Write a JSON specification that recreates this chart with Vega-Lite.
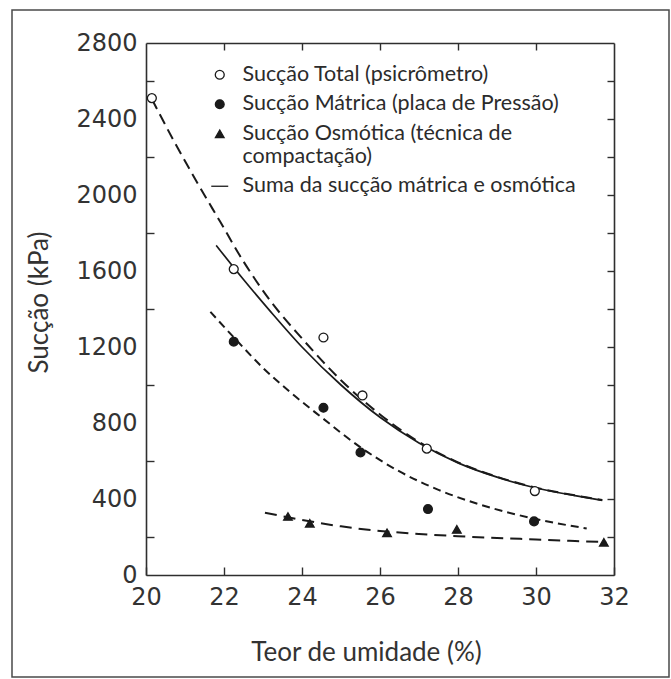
{
  "$schema": "https://vega.github.io/schema/vega-lite/v6.json",
  "width": 657,
  "height": 667,
  "autosize": {"type": "none"},
  "padding": {"left": 12, "top": 10, "right": 2, "bottom": 2},
  "background": "white",
  "config": {
    "view": {"stroke": "#4a4a4a", "strokeWidth": 1.5},
    "axis": {
      "domain": true,
      "domainColor": "#2e2e2e",
      "domainWidth": 1.6,
      "grid": false,
      "tickColor": "#2e2e2e",
      "tickWidth": 1.4,
      "labelFont": "DejaVu Sans",
      "labelFontSize": 24,
      "labelColor": "#333333",
      "labelFlush": false,
      "labelOverlap": false,
      "titleFont": "Lato",
      "titleFontSize": 26,
      "titleFontWeight": "normal",
      "titleColor": "#333333"
    }
  },
  "datasets": {
    "pontos": [
      {"teor": 20.15, "succao": 2510, "serie": "Sucção Total (psicrômetro)"},
      {"teor": 22.25, "succao": 1610, "serie": "Sucção Total (psicrômetro)"},
      {"teor": 24.55, "succao": 1250, "serie": "Sucção Total (psicrômetro)"},
      {"teor": 25.55, "succao": 945, "serie": "Sucção Total (psicrômetro)"},
      {"teor": 27.2, "succao": 665, "serie": "Sucção Total (psicrômetro)"},
      {"teor": 29.97, "succao": 442, "serie": "Sucção Total (psicrômetro)"},
      {"teor": 22.25, "succao": 1228, "serie": "Sucção Mátrica (placa de Pressão)"},
      {"teor": 24.55, "succao": 880, "serie": "Sucção Mátrica (placa de Pressão)"},
      {"teor": 25.5, "succao": 645, "serie": "Sucção Mátrica (placa de Pressão)"},
      {"teor": 27.23, "succao": 347, "serie": "Sucção Mátrica (placa de Pressão)"},
      {"teor": 29.95, "succao": 282, "serie": "Sucção Mátrica (placa de Pressão)"},
      {"teor": 23.64, "succao": 308, "serie": "Sucção Osmótica (técnica de compactação)"},
      {"teor": 24.2, "succao": 272, "serie": "Sucção Osmótica (técnica de compactação)"},
      {"teor": 26.18, "succao": 222, "serie": "Sucção Osmótica (técnica de compactação)"},
      {"teor": 27.97, "succao": 240, "serie": "Sucção Osmótica (técnica de compactação)"},
      {"teor": 31.74, "succao": 172, "serie": "Sucção Osmótica (técnica de compactação)"}
    ],
    "curvas": [
      {"teor": 20.15, "succao": 2505, "curva": "total"},
      {"teor": 20.7, "succao": 2290, "curva": "total"},
      {"teor": 21.3, "succao": 2070, "curva": "total"},
      {"teor": 21.9, "succao": 1860, "curva": "total"},
      {"teor": 22.5, "succao": 1650, "curva": "total"},
      {"teor": 23.2, "succao": 1440, "curva": "total"},
      {"teor": 24.0, "succao": 1245, "curva": "total"},
      {"teor": 25.0, "succao": 1025, "curva": "total"},
      {"teor": 26.0, "succao": 845, "curva": "total"},
      {"teor": 27.0, "succao": 700, "curva": "total"},
      {"teor": 28.0, "succao": 593, "curva": "total"},
      {"teor": 29.0, "succao": 517, "curva": "total"},
      {"teor": 30.0, "succao": 460, "curva": "total"},
      {"teor": 31.0, "succao": 419, "curva": "total"},
      {"teor": 31.7, "succao": 395, "curva": "total"},
      {"teor": 21.8, "succao": 1735, "curva": "soma"},
      {"teor": 22.5, "succao": 1555, "curva": "soma"},
      {"teor": 23.2, "succao": 1385, "curva": "soma"},
      {"teor": 24.0, "succao": 1200, "curva": "soma"},
      {"teor": 25.0, "succao": 1000, "curva": "soma"},
      {"teor": 26.0, "succao": 830, "curva": "soma"},
      {"teor": 27.0, "succao": 695, "curva": "soma"},
      {"teor": 28.0, "succao": 590, "curva": "soma"},
      {"teor": 29.0, "succao": 515, "curva": "soma"},
      {"teor": 30.0, "succao": 458, "curva": "soma"},
      {"teor": 31.0, "succao": 418, "curva": "soma"},
      {"teor": 31.7, "succao": 393, "curva": "soma"},
      {"teor": 21.65, "succao": 1385, "curva": "matrica"},
      {"teor": 22.3, "succao": 1240, "curva": "matrica"},
      {"teor": 23.0, "succao": 1090, "curva": "matrica"},
      {"teor": 23.7, "succao": 962, "curva": "matrica"},
      {"teor": 24.5, "succao": 830, "curva": "matrica"},
      {"teor": 25.5, "succao": 672, "curva": "matrica"},
      {"teor": 26.5, "succao": 545, "curva": "matrica"},
      {"teor": 27.5, "succao": 448, "curva": "matrica"},
      {"teor": 28.5, "succao": 375, "curva": "matrica"},
      {"teor": 29.5, "succao": 318, "curva": "matrica"},
      {"teor": 30.5, "succao": 274, "curva": "matrica"},
      {"teor": 31.3, "succao": 245, "curva": "matrica"},
      {"teor": 23.05, "succao": 328, "curva": "osmotica"},
      {"teor": 24.0, "succao": 290, "curva": "osmotica"},
      {"teor": 25.0, "succao": 256, "curva": "osmotica"},
      {"teor": 26.0, "succao": 232, "curva": "osmotica"},
      {"teor": 27.0, "succao": 216, "curva": "osmotica"},
      {"teor": 28.0, "succao": 204, "curva": "osmotica"},
      {"teor": 29.0, "succao": 195, "curva": "osmotica"},
      {"teor": 30.0, "succao": 187, "curva": "osmotica"},
      {"teor": 31.0, "succao": 179, "curva": "osmotica"},
      {"teor": 31.8, "succao": 173, "curva": "osmotica"}
    ]
  },
  "encoding": {
    "x": {"field": "teor", "type": "quantitative", "scale": {"domain": [20, 32], "range": [134, 602], "nice": false, "zero": false}, "axis": null},
    "y": {"field": "succao", "type": "quantitative", "scale": {"domain": [0, 2800], "range": [565, 33], "nice": false, "zero": false}, "axis": null}
  },
  "layer": [
    {
      "data": {"name": "curvas"},
      "transform": [{"filter": "datum.curva === 'total'"}],
      "mark": {"type": "line", "interpolate": "monotone", "color": "#1a1a1a", "strokeWidth": 2, "strokeDash": [11, 6]}
    },
    {
      "data": {"name": "curvas"},
      "transform": [{"filter": "datum.curva === 'matrica'"}],
      "mark": {"type": "line", "interpolate": "monotone", "color": "#1a1a1a", "strokeWidth": 2, "strokeDash": [8, 5]}
    },
    {
      "data": {"name": "curvas"},
      "transform": [{"filter": "datum.curva === 'osmotica'"}],
      "mark": {"type": "line", "interpolate": "monotone", "color": "#1a1a1a", "strokeWidth": 2, "strokeDash": [12, 7]}
    },
    {
      "data": {"name": "curvas"},
      "transform": [{"filter": "datum.curva === 'soma'"}],
      "mark": {"type": "line", "interpolate": "monotone", "color": "#1a1a1a", "strokeWidth": 1.7},
      "encoding": {
        "x": {"field": "teor", "type": "quantitative", "scale": {"domain": [20, 32], "range": [134, 602], "nice": false, "zero": false},
          "axis": {"orient": "top", "offset": -33, "values": [22, 24, 26, 28, 30], "labels": false, "tickSize": -7, "title": null}},
        "y": {"field": "succao", "type": "quantitative", "scale": {"domain": [0, 2800], "range": [565, 33], "nice": false, "zero": false},
          "axis": {"orient": "right", "offset": -55, "values": [200, 400, 600, 800, 1000, 1200, 1400, 1600, 1800, 2000, 2200, 2400, 2600], "labels": false, "tickSize": -7, "title": null}}
      }
    },
    {
      "data": {"name": "pontos"},
      "mark": {"type": "point", "filled": true, "stroke": "#1a1a1a", "strokeWidth": 1.3, "opacity": 1},
      "encoding": {
        "x": {"field": "teor", "type": "quantitative", "scale": {"domain": [20, 32], "range": [134, 602], "nice": false, "zero": false},
          "axis": {"orient": "bottom", "offset": -102, "values": [20, 22, 24, 26, 28, 30, 32], "tickSize": -8, "labelPadding": 18,
            "title": "Teor de umidade (%)", "titlePadding": 30, "titleX": 354}},
        "y": {"field": "succao", "type": "quantitative", "scale": {"domain": [0, 2800], "range": [565, 33], "nice": false, "zero": false},
          "axis": {"orient": "left", "offset": -134, "values": [0, 200, 400, 600, 800, 1000, 1200, 1400, 1600, 1800, 2000, 2200, 2400, 2600, 2800],
            "labelExpr": "datum.value % 400 === 0 ? datum.label : ''",
            "format": "d",
            "tickSize": -8,
            "tickOpacity": {"condition": {"test": "datum.value % 400 === 0", "value": 0}, "value": 1},
            "labelPadding": 17, "title": "Sucção (kPa)", "titlePadding": 23, "titleY": 292}},
        "shape": {"field": "serie", "type": "nominal",
          "scale": {"domain": ["Sucção Total (psicrômetro)", "Sucção Mátrica (placa de Pressão)", "Sucção Osmótica (técnica de compactação)", "Suma da sucção mátrica e osmótica"],
            "range": ["circle", "circle", "triangle-up", "M-2,0L2,0"]},
          "legend": {"title": null, "orient": "none", "legendX": 197, "legendY": 54,
            "labelFont": "Lato", "labelFontSize": 21.5, "labelColor": "#2b2b2b", "labelOffset": 12, "rowPadding": 6.5,
            "symbolStrokeColor": "#1a1a1a", "symbolStrokeWidth": 1.3,
            "labelLimit": 500,
            "labelExpr": "datum.label === 'Sucção Osmótica (técnica de compactação)' ? ['Sucção Osmótica (técnica de', 'compactação)'] : datum.label",
            "encode": {
              "labels": {"update": {"lineHeight": {"value": 28.5}}},
              "symbols": {"update": {"size": {"signal": "datum.value === 'Sucção Osmótica (técnica de compactação)' ? 64 : 45"}}}
            }}},
        "fill": {"field": "serie", "type": "nominal",
          "scale": {"domain": ["Sucção Total (psicrômetro)", "Sucção Mátrica (placa de Pressão)", "Sucção Osmótica (técnica de compactação)", "Suma da sucção mátrica e osmótica"],
            "range": ["white", "#1a1a1a", "#1a1a1a", "#1a1a1a"]}},
        "size": {"field": "serie", "type": "nominal",
          "scale": {"domain": ["Sucção Total (psicrômetro)", "Sucção Mátrica (placa de Pressão)", "Sucção Osmótica (técnica de compactação)", "Suma da sucção mátrica e osmótica"],
            "range": [80, 72, 150, 45]}}
      }
    }
  ],
  "resolve": {"axis": {"x": "independent", "y": "independent"}}
}
